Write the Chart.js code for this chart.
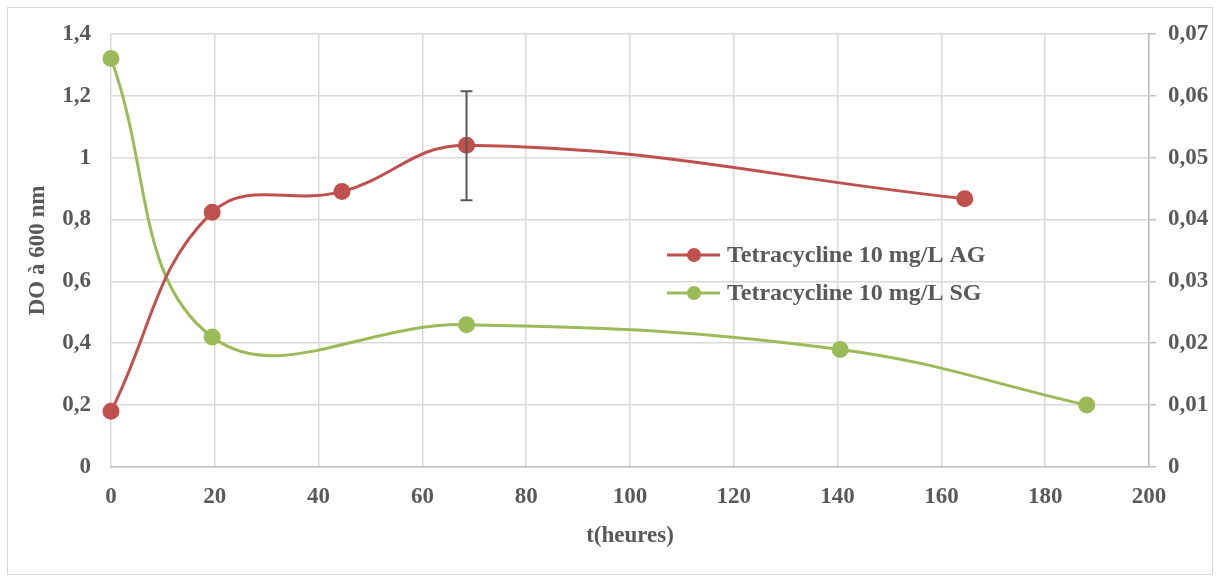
<!DOCTYPE html>
<html>
<head>
<meta charset="utf-8">
<script src="https://cdn.jsdelivr.net/npm/chart.js@4.4.1/dist/chart.umd.min.js"></script>
<style>
    body { margin: 0; background: #fff; }
    #wrap { width: 1220px; height: 578px; position: relative; }
    #frame { position: absolute; left: 7px; top: 7px; width: 1206px; height: 568px; border: 1px solid #d9d9d9; box-sizing: border-box; }
    #Canvas-Main { position: absolute; left: 0; top: 0; }
</style>
</head>
<body>
<div id="wrap">
    <div id="frame"></div>
    <canvas id="Canvas-Main" width="1220" height="578"></canvas>
</div>
<script>
// Tetracycline 10 mg/L, avec glucose (AG) et sans glucose (SG)
var tAG = [0, 19.5, 44.5, 68.5, 164.5];
var doAG = [0.18, 0.823, 0.89, 1.04, 0.867];
var errLowAG = [null, null, null, 0.862, null];
var errHighAG = [null, null, null, 1.214, null];

var tSG = [0, 19.5, 68.5, 140.5, 188];
var doSG = [1.32, 0.42, 0.46, 0.38, 0.2];

var xTicks = [0, 20, 40, 60, 80, 100, 120, 140, 160, 180, 200];
var yTicks = [0, 0.2, 0.4, 0.6, 0.8, 1, 1.2, 1.4];
var y2Ticks = [0, 0.01, 0.02, 0.03, 0.04, 0.05, 0.06, 0.07];

var labelAG = 'Tetracycline 10 mg/L AG';
var labelSG = 'Tetracycline 10 mg/L SG';

var red = '#c0504d';
var green = '#9bbb59';
var textColor = '#595959';
var fontFam = '"Liberation Serif", "Times New Roman", serif';

function toPoints(xs, ys) {
    return xs.map(function (x, i) { return { x: x, y: ys[i] }; });
}

function frComma(v) {
    return String(v).replace('.', ',');
}

var errorBars = {
    id: 'errorBars',
    afterDatasetsDraw: function (chart) {
        var ctx = chart.ctx;
        var xs = chart.scales.x, ys = chart.scales.y;
        ctx.save();
        ctx.strokeStyle = '#595959';
        ctx.lineWidth = 2;
        tAG.forEach(function (t, i) {
            if (errLowAG[i] === null) return;
            var px = xs.getPixelForValue(t);
            var lo = ys.getPixelForValue(errLowAG[i]);
            var hi = ys.getPixelForValue(errHighAG[i]);
            ctx.beginPath();
            ctx.moveTo(px, lo); ctx.lineTo(px, hi);
            ctx.moveTo(px - 6, lo); ctx.lineTo(px + 6, lo);
            ctx.moveTo(px - 6, hi); ctx.lineTo(px + 6, hi);
            ctx.stroke();
        });
        ctx.restore();
    }
};

var insideLegend = {
    id: 'insideLegend',
    afterDraw: function (chart) {
        var ctx = chart.ctx;
        var items = [[labelAG, red, 255], [labelSG, green, 293]];
        ctx.save();
        ctx.font = 'bold 24px ' + fontFam;
        ctx.textBaseline = 'middle';
        items.forEach(function (it) {
            ctx.strokeStyle = it[1];
            ctx.lineWidth = 3;
            ctx.beginPath();
            ctx.moveTo(667, it[2]); ctx.lineTo(720, it[2]);
            ctx.stroke();
            ctx.fillStyle = it[1];
            ctx.beginPath();
            ctx.arc(694, it[2], 7, 0, Math.PI * 2);
            ctx.fill();
            ctx.fillStyle = textColor;
            ctx.fillText(it[0], 727, it[2] + 1);
        });
        ctx.restore();
    }
};

var ctx = document.getElementById('Canvas-Main').getContext('2d');
var myChart = new Chart(ctx, {
    type: 'line',
    data: {
        datasets: [
            {
                label: labelAG,
                data: toPoints(tAG, doAG),
                borderColor: red,
                backgroundColor: red,
                borderWidth: 3,
                pointRadius: 7,
                pointHoverRadius: 7,
                tension: 0.4,
                clip: false,
                yAxisID: 'y'
            },
            {
                label: labelSG,
                data: toPoints(tSG, doSG),
                borderColor: green,
                backgroundColor: green,
                borderWidth: 3,
                pointRadius: 7,
                pointHoverRadius: 7,
                tension: 0.4,
                clip: false,
                yAxisID: 'y'
            }
        ]
    },
    options: {
        responsive: false,
        animation: false,
        layout: { padding: { left: 20, right: 0, top: 33, bottom: 24 } },
        plugins: {
            legend: { display: false },
            tooltip: { enabled: false }
        },
        scales: {
            x: {
                type: 'linear',
                min: 0,
                max: 200,
                afterBuildTicks: function (s) { s.ticks = xTicks.map(function (v) { return { value: v }; }); },
                afterFit: function (s) { s.height = 87; },
                ticks: {
                    color: textColor,
                    font: { family: fontFam, size: 23, weight: 'bold' },
                    padding: 16
                },
                grid: { color: '#d9d9d9', lineWidth: 1.5, drawTicks: false },
                border: { display: true, color: '#bfbfbf', width: 1.5 },
                title: {
                    display: true,
                    text: 't(heures)',
                    color: textColor,
                    font: { family: fontFam, size: 23, weight: 'bold' },
                    padding: { top: 4, bottom: 4 }
                }
            },
            y: {
                position: 'left',
                min: 0,
                max: 1.4,
                afterBuildTicks: function (s) { s.ticks = yTicks.map(function (v) { return { value: v }; }); },
                afterFit: function (s) { s.width = 91; },
                ticks: {
                    color: textColor,
                    font: { family: fontFam, size: 23, weight: 'bold' },
                    padding: 20,
                    callback: function (v) { return frComma(v); }
                },
                grid: { color: '#d9d9d9', lineWidth: 1.5, drawTicks: false },
                border: { display: false },
                title: {
                    display: true,
                    text: 'DO à 600 nm',
                    color: textColor,
                    font: { family: fontFam, size: 23, weight: 'bold' },
                    padding: { top: 4, bottom: 4 }
                }
            },
            y2: {
                position: 'right',
                min: 0,
                max: 0.07,
                afterBuildTicks: function (s) { s.ticks = y2Ticks.map(function (v) { return { value: v }; }); },
                afterFit: function (s) { s.width = 71; },
                ticks: {
                    color: textColor,
                    font: { family: fontFam, size: 23, weight: 'bold' },
                    padding: 12,
                    callback: function (v) { return frComma(Math.round(v * 100) / 100); }
                },
                grid: { drawOnChartArea: false, color: '#bfbfbf', lineWidth: 1.5, tickLength: 7 },
                border: { display: true, color: '#bfbfbf', width: 1.5 }
            }
        }
    },
    plugins: [errorBars, insideLegend]
});
</script>
</body>
</html>
